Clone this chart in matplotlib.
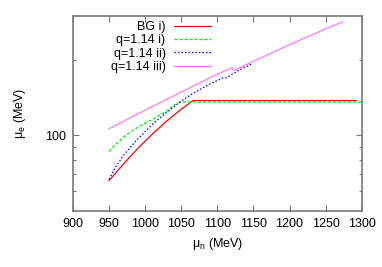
import numpy as np
import matplotlib
matplotlib.use('Agg')
import matplotlib.pyplot as plt
from matplotlib.ticker import FixedLocator, NullFormatter

plt.rcParams['font.family'] = ['Liberation Sans', 'DejaVu Sans']
plt.rcParams['font.size'] = 9
plt.rcParams['mathtext.fontset'] = 'custom'
plt.rcParams['mathtext.rm'] = 'Liberation Sans'
plt.rcParams['mathtext.it'] = 'Liberation Sans'

# curvas (mu_n en MeV, mu_e en MeV)
bg_x = [950, 970, 990, 1010, 1030, 1050, 1066.5, 1293]
bg_y = [66.1, 77.0, 88.9, 101.3, 114.2, 127.3, 137.7, 137.7]

q1_x = [950, 960, 970, 980, 990, 1000, 1010, 1020, 1030, 1040, 1048, 1055, 1300]
q1_y = [86.3, 92.6, 98.4, 103.5, 107.8, 111.9, 115.9, 120.2, 125.2, 132.1, 135.5, 135.8, 135.8]

q2_x = [950, 960, 970, 980, 990, 1000, 1010, 1020, 1030, 1040, 1050, 1060, 1070,
        1080, 1090, 1100, 1108, 1112.7, 1120, 1130, 1140, 1147.3]
q2_y = [66.9, 75.6, 83.3, 90.1, 97.0, 103.5, 110.7, 117.2, 123.6, 130.3, 137.0, 143.2, 149.1,
        154.9, 160.4, 165.5, 169.7, 169.7, 174.9, 182.0, 188.0, 192.7]

q3_x = [950, 1000, 1050, 1100, 1120, 1123.3, 1150, 1200, 1250, 1273.3]
q3_y = [106.4, 126.1, 148.9, 175.4, 185.8, 181.5, 197.5, 229.9, 266.0, 283.1]

etiquetas = ['BG i)', 'q=1.14 i)', 'q=1.14 ii)', 'q=1.14 iii)']

fig = plt.figure(figsize=(3.82, 2.67), dpi=100)
ax = fig.add_axes([0.191, 0.2097, 0.756, 0.7315])

ax.plot(bg_x, bg_y, color='#ff0000', lw=0.9, label=etiquetas[0])
ax.plot(q1_x, q1_y, color='#00ee00', lw=0.9, ls=(0, (2.5, 1.5)), label=etiquetas[1])
ax.plot(q2_x, q2_y, color='#0000ff', lw=0.9, ls=(0, (1.2, 1.6)), label=etiquetas[2])
ax.plot(q3_x, q3_y, color='#ff77ff', lw=0.9, label=etiquetas[3])

ax.set_yscale('log')
ax.set_xlim(900, 1300)
ax.set_ylim(50, 300)
ax.set_xticks(np.arange(900, 1301, 50))
ax.yaxis.set_major_locator(FixedLocator([100]))
ax.yaxis.set_minor_locator(FixedLocator([60, 70, 80, 90, 200]))
ax.yaxis.set_minor_formatter(NullFormatter())
ax.set_yticklabels(['100'])

ax.tick_params(which='both', direction='in', top=True, right=True, color='#777777')
ax.tick_params(which='major', length=4, width=0.8, pad=5)
ax.tick_params(which='minor', length=2.5, width=0.8)
for s in ax.spines.values():
    s.set_color('#777777')
    s.set_linewidth(1.2)

ax.set_xlabel(r'$\mathregular{\mu_n}$ (MeV)', labelpad=4)
ax.set_ylabel(r'$\mathregular{\mu_e}$ (MeV)', labelpad=12)

ax.legend(loc='upper right', bbox_to_anchor=(0.485, 0.985), frameon=False,
          markerfirst=False, handlelength=2.9, handletextpad=0.7,
          labelspacing=0.1, borderpad=0.2, borderaxespad=0)

plt.savefig('out.png', dpi=100)
